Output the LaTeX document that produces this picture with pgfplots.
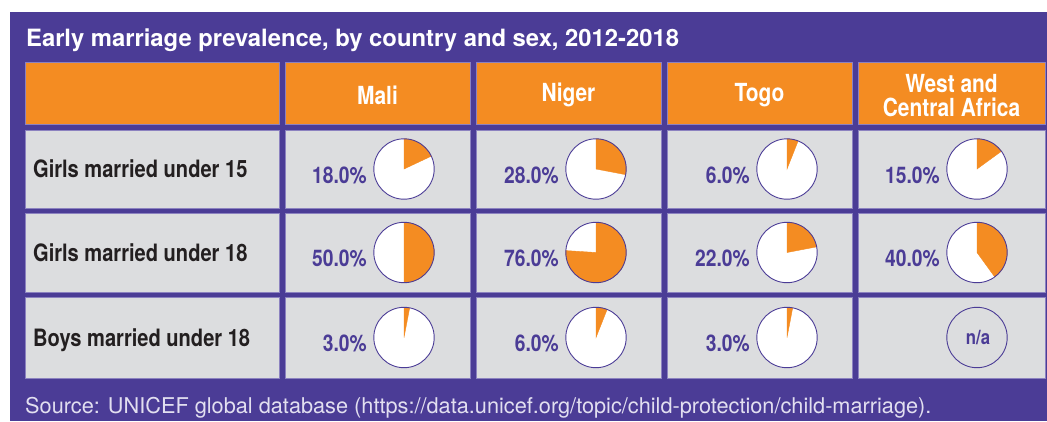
\documentclass[border=0pt]{standalone}
\usepackage{pgfplots}
\pgfplotsset{compat=1.18}
\usepackage{pgfplotstable}
\usepackage{fontspec}
\setmainfont{TeX Gyre Heros}
\newfontfamily\condfont[FakeStretch=0.84]{TeX Gyre Heros}
\definecolor{upurple}{HTML}{4B3C96}
\definecolor{uorange}{HTML}{F48C22}
\definecolor{ugray}{HTML}{DCDDDF}
\definecolor{cellline}{HTML}{8C82C0}
\definecolor{darktext}{HTML}{231F20}
\definecolor{srctext}{HTML}{E2DFF0}

\pgfplotstableread{
x y v
404 169 18
596 169 28
787 169 6
977 169 15
404 252.5 50
596 252.5 76
787 252.5 22
977 252.5 40
404 337.5 3
596 337.5 6
787 337.5 3
}\piedata

\newcommand\cell[5]{\fill[#5,draw=cellline,line width=0.6bp] (axis cs:#1,#3) rectangle (axis cs:#2,#4);}

\begin{document}
\begin{tikzpicture}
\begin{axis}[
  scale only axis, width=1047bp, height=421bp,
  xmin=0, xmax=1047, ymin=0, ymax=421, y dir=reverse,
  hide axis, clip=false,
]
\fill[white] (axis cs:0,0) rectangle (axis cs:1047,421);
\fill[upurple] (axis cs:10,12) rectangle (axis cs:1047,421);
% header row
\cell{25}{279}{62}{124}{uorange}
\cell{285}{470}{62}{124}{uorange}
\cell{476}{661}{62}{124}{uorange}
\cell{667}{852}{62}{124}{uorange}
\cell{858}{1045}{62}{124}{uorange}
% row 1
\cell{25}{279}{130}{208}{ugray}
\cell{285}{470}{130}{208}{ugray}
\cell{476}{661}{130}{208}{ugray}
\cell{667}{852}{130}{208}{ugray}
\cell{858}{1045}{130}{208}{ugray}
% row 2
\cell{25}{279}{213}{292}{ugray}
\cell{285}{470}{213}{292}{ugray}
\cell{476}{661}{213}{292}{ugray}
\cell{667}{852}{213}{292}{ugray}
\cell{858}{1045}{213}{292}{ugray}
% row 3
\cell{25}{279}{297}{378}{ugray}
\cell{285}{470}{297}{378}{ugray}
\cell{476}{661}{297}{378}{ugray}
\cell{667}{852}{297}{378}{ugray}
\cell{858}{1045}{297}{378}{ugray}

% title and source
\node[anchor=base west, inner sep=0pt, text=white, font=\fontsize{23.9}{28}\selectfont\bfseries] at (axis cs:26,46.7) {Early marriage prevalence, by country and sex, 2012-2018};
\node[anchor=base west, inner sep=0pt, text=srctext, font=\fontsize{21.8}{26}\selectfont] at (axis cs:25,413) {Source: UNICEF global database (https://data.unicef.org/topic/child-protection/child-marriage).};

% header labels
\node[text=white, font=\condfont\fontsize{25}{24}\selectfont\bfseries] at (axis cs:377.5,95) {Mali};
\node[text=white, font=\condfont\fontsize{25}{24}\selectfont\bfseries] at (axis cs:568.5,95) {Niger};
\node[text=white, font=\condfont\fontsize{25}{24}\selectfont\bfseries] at (axis cs:759.5,95) {Togo};
\node[text=white, align=center, font=\condfont\fontsize{25}{24}\selectfont\bfseries] at (axis cs:951.5,95.5) {West and\\Central Africa};

% row labels
\node[anchor=base west, inner sep=0pt, text=darktext, font=\condfont\fontsize{24}{28}\selectfont\bfseries] at (axis cs:33,177.5) {Girls married under 15};
\node[anchor=base west, inner sep=0pt, text=darktext, font=\condfont\fontsize{24}{28}\selectfont\bfseries] at (axis cs:33,261.5) {Girls married under 18};
\node[anchor=base west, inner sep=0pt, text=darktext, font=\condfont\fontsize{24}{28}\selectfont\bfseries] at (axis cs:33,346) {Boys married under 18};

% pies
\addplot[scatter, only marks, mark=*, mark size=0pt,
  point meta=\thisrow{v}, point meta min=0, point meta max=100,
  scatter/@pre marker code/.code={%
    \scope
    \pgfkeys{/pgf/fpu=false}%
    \pgfmathsetmacro\pieang{90-0.36*\pgfplotspointmetatransformed}%
    \fill[white] (0pt,0pt) circle[radius=30.2bp];
    \fill[uorange] (0pt,0pt) -- (90:30.2bp) arc[start angle=90,end angle=\pieang,radius=30.2bp] -- cycle;
    \draw[upurple,line width=0.9bp] (0pt,0pt) circle[radius=30.2bp];
  },
  scatter/@post marker code/.code={\endscope},
] table[x=x,y=y] {\piedata};

% percentage labels
\addplot[draw=none, mark=none,
  point meta=\thisrow{v},
  nodes near coords={\pgfmathprintnumber[fixed,fixed zerofill,precision=1,assume math mode=true]{\pgfplotspointmeta}\%},
  every node near coord/.style={anchor=base east, inner sep=0pt, text=upurple,
     font=\condfont\fontsize{23}{26}\selectfont\bfseries, xshift=-37bp, yshift=-14bp},
] table[x=x,y=y] {\piedata};

% n/a
\draw[upurple, line width=0.9bp] (axis cs:977,337.5) circle[radius=30.2bp];
\node[text=upurple, font=\condfont\fontsize{20}{24}\selectfont\bfseries] at (axis cs:978,337.5) {n/a};
\end{axis}
\end{tikzpicture}
\end{document}
